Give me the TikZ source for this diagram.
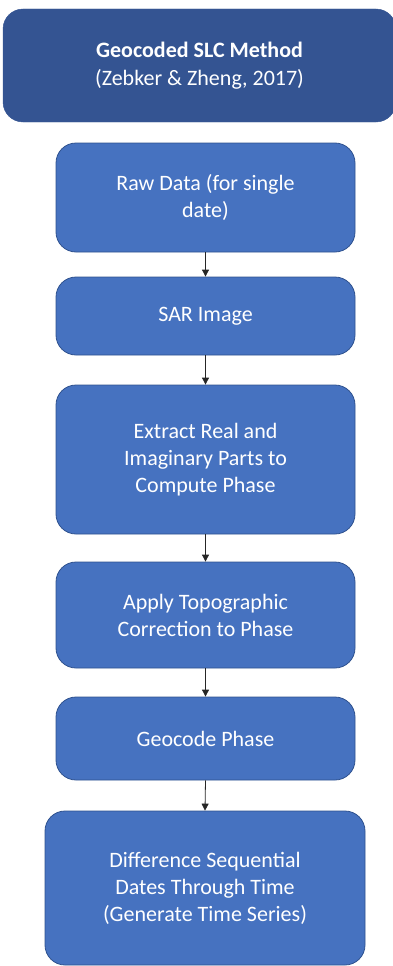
\documentclass[tikz,border=0pt]{standalone}
\usepackage{fontspec}
\setmainfont{Carlito}
\usetikzlibrary{arrows.meta}
\definecolor{hdrblue}{RGB}{52,84,146}
\definecolor{boxblue}{RGB}{70,114,192}
\definecolor{boxedge}{RGB}{47,82,143}
\tikzset{
  stepbox/.style={draw=boxedge, line width=0.8pt, fill=boxblue, rounded corners=20pt,
    text=white, align=center, font=\fontsize{22}{27}\selectfont, inner sep=0pt},
  hdrbox/.style={draw=hdrblue, fill=hdrblue, rounded corners=20pt,
    text=white, align=center, font=\fontsize{22}{28}\selectfont, inner sep=0pt},
  flow/.style={draw=black!85, line width=0.8pt, -{Triangle[length=7pt,width=7pt]}}
}
\begin{document}
\begin{tikzpicture}[x=1pt,y=-1pt]
\useasboundingbox (0,0) rectangle (393,966);
\node[hdrbox, minimum width=393pt, minimum height=113pt] (hdr) at (199.5,65.5)
  {\textbf{Geocoded SLC Method}\\(Zebker \& Zheng, 2017)};
\node[stepbox, minimum width=299pt, minimum height=109pt] (b1) at (205.5,197.5)
  {Raw Data (for single\\date)};
\node[stepbox, minimum width=299pt, minimum height=78pt] (b2) at (205.5,316)
  {SAR Image};
\node[stepbox, minimum width=299pt, minimum height=149pt] (b3) at (205.5,459.5)
  {Extract Real and\\Imaginary Parts to\\Compute Phase};
\node[stepbox, minimum width=299pt, minimum height=106pt] (b4) at (205.5,615)
  {Apply Topographic\\Correction to Phase};
\node[stepbox, minimum width=299pt, minimum height=83pt] (b5) at (205.5,738.5)
  {Geocode Phase};
\node[stepbox, minimum width=320pt, minimum height=154pt] (b6) at (205,888)
  {Difference Sequential\\Dates Through Time\\(Generate Time Series)};
\draw[flow] (b1.south) -- (b2.north);
\draw[flow] (b2.south) -- (b3.north);
\draw[flow] (b3.south) -- (b4.north);
\draw[flow] (b4.south) -- (b5.north);
\draw[flow] (b5.south) -- (b6.north);
\end{tikzpicture}
\end{document}
